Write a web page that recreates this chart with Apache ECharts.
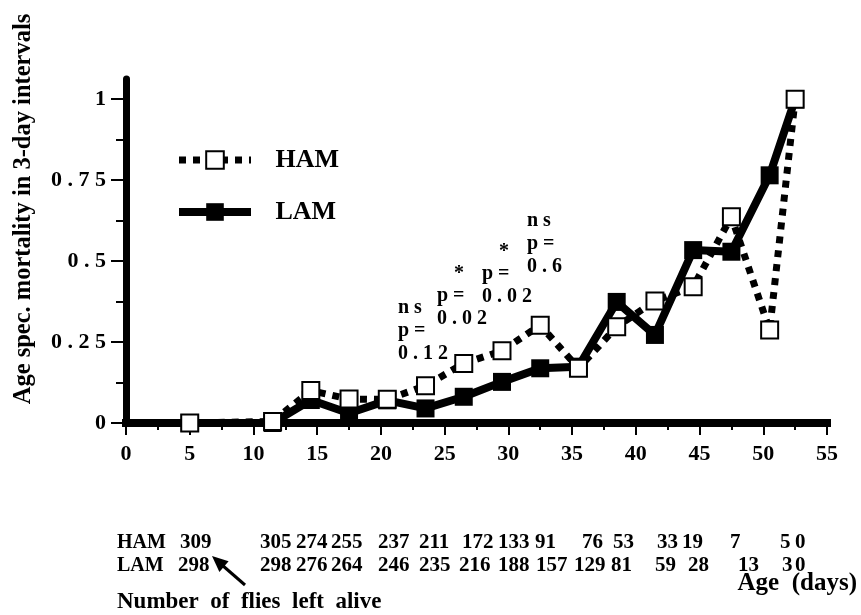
<!DOCTYPE html>
<html>
<head>
<meta charset="utf-8">
<script src="https://cdn.jsdelivr.net/npm/echarts@6/dist/echarts.min.js"></script>
<style>
html, body { margin: 0; padding: 0; background: #fff; }
#main { width: 861px; height: 615px; }
</style>
</head>
<body>
<div id="main"></div>
<script>
// age (days) at the middle of each 3-day interval
var days = [5, 11.5, 14.5, 17.5, 20.5, 23.5, 26.5, 29.5, 32.5, 35.5, 38.5, 41.5, 44.5, 47.5, 50.5, 52.5];
// age specific mortality
var ham = [0, 0.005, 0.1, 0.074, 0.073, 0.115, 0.184, 0.223, 0.302, 0.169, 0.297, 0.377, 0.421, 0.637, 0.287, 1];
var lam = [0, 0, 0.071, 0.03, 0.07, 0.045, 0.081, 0.127, 0.169, 0.174, 0.374, 0.272, 0.534, 0.529, 0.765, 1];

var yMajor = [0, 0.25, 0.5, 0.75, 1];
var yMinor = [0.125, 0.375, 0.625, 0.875];

// number of flies left alive
var hamAlive = [309, 305, 274, 255, 237, 211, 172, 133, 91, 76, 53, 33, 19, 7, 5, 0];
var lamAlive = [298, 298, 276, 264, 246, 235, 216, 188, 157, 129, 81, 59, 28, 13, 3, 0];

// significance notes
var sigLabels = ['ns', '*', '*', 'ns'];
var pValues = ['0.12', '0.02', '0.02', '0.6'];

// layout of the text under the chart (left edge of each number)
var hamX = [180, 260, 296, 331, 378, 419, 462, 498, 535, 582, 613, 657, 682, 730, 780, 795];
var lamX = [178, 260, 296, 331, 378, 419, 459, 498, 536, 574, 611, 655, 688, 738, 782, 795];
var noteBoxes = [{x: 398, y: 296}, {x: 437, y: 262}, {x: 482, y: 240}, {x: 527, y: 209}];

var FONT = '"Liberation Serif", "Times New Roman", serif';
function spaced(s) { return String(s).split('').join(' '); }

function txt(x, y, s, size, opts) {
    opts = opts || {};
    return {
        type: 'text', x: x, y: y, rotation: opts.rotation || 0, silent: true,
        style: {
            text: s, fill: '#000',
            font: 'bold ' + size + 'px ' + FONT,
            align: opts.align || 'left', verticalAlign: opts.va || 'middle',
            lineHeight: opts.lineHeight || size
        }
    };
}

var graphics = [];
graphics.push(txt(24, 209, 'Age spec. mortality in 3-day intervals', 24.5, {align: 'center', rotation: Math.PI / 2}));

// significance annotations
noteBoxes.forEach(function (b, i) {
    var sig = sigLabels[i];
    if (sig === '*') {
        graphics.push(txt(b.x + 22, b.y, '*', 20, {align: 'center', va: 'top', lineHeight: 23}));
        graphics.push(txt(b.x, b.y + 22, spaced('p=') + '\n' + spaced(pValues[i]), 20, {va: 'top', lineHeight: 23}));
    } else {
        graphics.push(txt(b.x, b.y, spaced(sig) + '\n' + spaced('p=') + '\n' + spaced(pValues[i]), 20, {va: 'top', lineHeight: 23}));
    }
});

// table of flies left alive
graphics.push(txt(117, 543, 'HAM', 20));
graphics.push(txt(117, 566, 'LAM', 20));
hamAlive.forEach(function (v, i) { graphics.push(txt(hamX[i], 543, String(v), 21)); });
lamAlive.forEach(function (v, i) { graphics.push(txt(lamX[i], 566, String(v), 21)); });
graphics.push(txt(117, 602, 'Number  of  flies  left  alive', 23));
graphics.push(txt(857, 584, 'Age  (days)', 25, {align: 'right'}));

// arrow pointing at the first counts
graphics.push({
    type: 'line', silent: true,
    shape: {x1: 245, y1: 585, x2: 222, y2: 565},
    style: {stroke: '#000', lineWidth: 3}
});
graphics.push({
    type: 'polygon', silent: true,
    shape: {points: [[212, 556], [228.6, 561.3], [219.4, 571.9]]},
    style: {fill: '#000'}
});

var option = {
    animation: false,
    backgroundColor: '#fff',
    grid: {left: 126, right: 34, top: 79, bottom: 192, containLabel: false},
    legend: {
        data: ['HAM', 'LAM'],
        orient: 'vertical',
        left: 170, top: 142,
        itemWidth: 72, itemHeight: 22, itemGap: 26,
        lineStyle: {width: 'inherit'},
        formatter: function (n) { return '   ' + n; },
        textStyle: {fontFamily: FONT, fontWeight: 'bold', fontSize: 26, color: '#000'}
    },
    xAxis: {
        type: 'value', min: 0, max: 55, interval: 5,
        axisLine: {lineStyle: {color: '#000', width: 8, cap: 'square'}},
        axisTick: {length: 12, lineStyle: {color: '#000', width: 2}},
        minorTick: {show: true, splitNumber: 2, length: 7, lineStyle: {color: '#000', width: 2}},
        splitLine: {show: false},
        axisLabel: {margin: 20, color: '#000', fontFamily: FONT, fontWeight: 'bold', fontSize: 22}
    },
    yAxis: [{
        type: 'value', min: 0, max: 1.0625, interval: 0.25, position: 'left',
        axisLine: {show: true, lineStyle: {color: '#000', width: 7}},
        axisTick: {show: true, customValues: yMajor, length: 15, lineStyle: {color: '#000', width: 2}},
        splitLine: {show: false},
        axisLabel: {customValues: yMajor, margin: 20, color: '#000', fontFamily: FONT, fontWeight: 'bold', fontSize: 22,
            formatter: function (v) { return spaced(v); }}
    }, {
        type: 'value', min: 0, max: 1.0625, interval: 0.25, position: 'left', offset: 0,
        axisLine: {show: false},
        axisTick: {show: true, customValues: yMinor, length: 10, lineStyle: {color: '#000', width: 2}},
        axisLabel: {show: false},
        splitLine: {show: false}
    }],
    series: [{
        name: 'LAM', type: 'line', z: 2,
        data: days.map(function (d, i) { return [d, lam[i]]; }),
        symbol: 'rect', symbolSize: 18,
        itemStyle: {color: '#000'},
        lineStyle: {color: '#000', width: 8}
    }, {
        name: 'HAM', type: 'line', z: 3,
        data: days.map(function (d, i) { return [d, ham[i]]; }),
        symbol: 'rect', symbolSize: 17,
        itemStyle: {color: '#fff', borderColor: '#000', borderWidth: 2},
        lineStyle: {color: '#000', width: 7, type: [7, 7]}
    }],
    graphic: graphics
};

var myChart = echarts.init(document.getElementById('main'));
myChart.setOption(option);
</script>
</body>
</html>
